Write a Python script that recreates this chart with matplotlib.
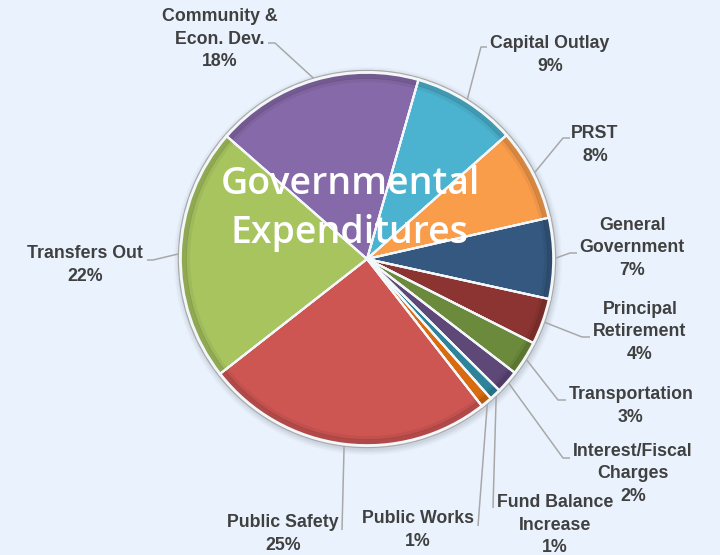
import numpy as np
import matplotlib
matplotlib.use("Agg")
import matplotlib.pyplot as plt
from matplotlib.patches import Wedge, Circle

# Governmental expenditures by function (percent of total)
categories = [
    "Capital Outlay", "PRST", "General\nGovernment", "Principal\nRetirement",
    "Transportation", "Interest/Fiscal\nCharges", "Fund Balance\nIncrease",
    "Public Works", "Public Safety", "Transfers Out", "Community &\nEcon. Dev.",
]
shares = [9, 8, 7, 4, 3, 2, 1, 1, 25, 22, 18]
colors = [
    "#4BB3CF", "#F99D4B", "#34587F", "#8B3431", "#6C8A3B", "#5E4878",
    "#2F8399", "#D86A10", "#CD5653", "#A7C45F", "#8669A8",
]

W, H = 720, 555
BG = "#EAF3FD"
TXT = "#404040"
LINE = "#A8A8A8"

fig = plt.figure(figsize=(W / 100, H / 100), dpi=100, facecolor=BG)
ax = fig.add_axes([0, 0, 1, 1])
ax.set_facecolor(BG)


def P(x, y):
    """pixel position measured from the top-left corner -> axes coords"""
    return x, H - y


cx, cy = P(367, 259)
R = 187

wedges, _ = ax.pie(
    shares, colors=colors, startangle=74, counterclock=False,
    center=(cx, cy), radius=R,
    wedgeprops=dict(edgecolor="#F4F7FA", linewidth=1.5, zorder=2),
)
ax.set_xlim(0, W)
ax.set_ylim(0, H)
ax.set_aspect("equal")
ax.axis("off")

# soft shadow and grey rim behind the pie
for k, a in enumerate([0.05, 0.06, 0.08, 0.10]):
    ax.add_patch(Circle((cx + 1, cy - 2), R + 7 - 1.5 * k, facecolor="#7a8590",
                        edgecolor="none", alpha=a, zorder=0))
ax.add_patch(Circle((cx, cy), R + 2.2, facecolor="#A9A9A9", edgecolor="none", zorder=1))

# bevel: darker outer rim and faint shade band on each slice
for w in wedges:
    ax.add_patch(Wedge((cx, cy), R - 0.8, w.theta1, w.theta2, width=6,
                       facecolor="black", alpha=0.14, edgecolor="none", zorder=3))
    ax.add_patch(Wedge((cx, cy), R - 6, w.theta1, w.theta2, width=4,
                       facecolor="black", alpha=0.05, edgecolor="none", zorder=3))
    ax.add_patch(Wedge((cx, cy), R - 0.8, w.theta1, w.theta2,
                       facecolor="none", edgecolor="#F4F7FA", linewidth=1.5, zorder=4))

# label block centres and leader-line routes (pixel coordinates)
label_pos = [
    (550, 55), (595, 145), (632, 248), (640, 332), (631, 406),
    (633, 474), (555, 525), (418, 530), (283, 534), (85, 265), (220, 39),
]
leader_pts = [
    [(481, 47), (487, 47)],
    [(563, 138), (570, 138)],
    [(570, 253), (577, 253)],
    [(582, 337), (590, 337)],
    [(558, 400), (566, 400)],
    [(563, 458), (570, 458)],
    [(493, 508)],
    [(478, 526)],
    [(342, 530)],
    [(153, 260), (147, 260)],
    [(275, 43), (268, 43)],
]

for w, name, share, (tx, ty), pts in zip(wedges, categories, shares, label_pos, leader_pts):
    mid = np.deg2rad(0.5 * (w.theta1 + w.theta2))
    x0, y0 = cx + (R + 1) * np.cos(mid), cy + (R + 1) * np.sin(mid)
    xs = [x0] + [P(*p)[0] for p in pts]
    ys = [y0] + [P(*p)[1] for p in pts]
    ax.plot(xs, ys, color=LINE, lw=1.1, zorder=1.5, solid_capstyle="butt")
    ax.text(*P(tx, ty), f"{name}\n{share}%", ha="center", va="center",
            fontsize=12.8, fontweight="bold", family=["Liberation Sans", "DejaVu Sans"],
            color=TXT, linespacing=1.45, zorder=6)

ax.text(*P(350, 184), "Governmental", ha="center", va="center", fontsize=27,
        family=["Open Sans", "DejaVu Sans"], fontweight="semibold", color="white", zorder=7)
ax.text(*P(350, 233), "Expenditures", ha="center", va="center", fontsize=27,
        family=["Open Sans", "DejaVu Sans"], fontweight="semibold", color="white", zorder=7)

fig.savefig("out.png", dpi=100, facecolor=BG)
